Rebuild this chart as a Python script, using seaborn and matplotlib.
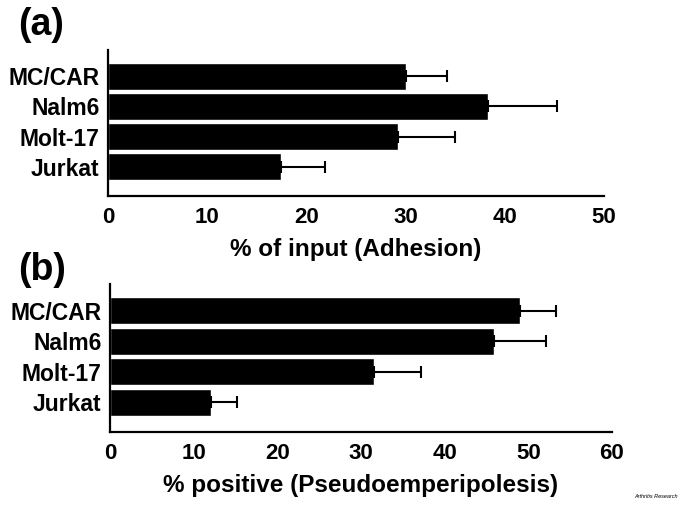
import numpy as np
import pandas as pd
import seaborn as sns
from matplotlib import pyplot as plt

sns.set_style("white")
plt.rcParams['font.family'] = ['Liberation Sans Narrow', 'Liberation Sans', 'DejaVu Sans']
plt.rcParams['font.weight'] = 'bold'
plt.rcParams['text.color'] = 'black'
plt.rcParams['axes.labelcolor'] = 'black'

cells = ['MC/CAR', 'Nalm6', 'Molt-17', 'Jurkat']
adhesion = [30.0, 38.3, 29.2, 17.4]
adhesion_err = [4.2, 7.0, 5.8, 4.5]
pseudo = [49.0, 45.9, 31.5, 12.1]
pseudo_err = [4.3, 6.2, 5.7, 3.1]

fig = plt.figure(figsize=(6.85, 5.05), dpi=100)
ax_a = fig.add_axes([108 / 685, 1 - 196 / 505, (604 - 108) / 685, 146 / 505])
ax_b = fig.add_axes([110 / 685, 1 - 432 / 505, (612 - 110) / 685, 148 / 505])


def panel(ax, vals, errs, xmax, xlabel):
    df = pd.DataFrame({'cell': cells, 'val': vals})
    sns.barplot(data=df, x='val', y='cell', orient='h', color='black',
                width=0.88, saturation=1, ax=ax)
    pos = np.arange(len(cells))
    ax.errorbar(vals, pos, xerr=[np.zeros(len(errs)), errs], fmt='none',
                ecolor='black', elinewidth=1.5, capsize=4, capthick=1.5)
    ax.set_xlim(0, xmax)
    ax.set_ylim(3.98, -0.88)
    ax.set_xticks(np.arange(0, xmax + 1, 10))
    ax.set_xlabel(xlabel, fontsize=17.5, fontweight='bold', labelpad=7, color='black')
    ax.set_ylabel('')
    sns.despine(ax=ax)
    for s in ['left', 'bottom']:
        ax.spines[s].set_linewidth(1.6)
        ax.spines[s].set_color('black')
    ax.tick_params(axis='x', direction='in', length=6, width=1.6,
                   labelsize=16, pad=8, colors='black')
    ax.tick_params(axis='y', length=0, labelsize=16.5, pad=6, colors='black')
    for t in ax.get_xticklabels() + ax.get_yticklabels():
        t.set_fontweight('bold')


panel(ax_a, adhesion, adhesion_err, 50, '% of input (Adhesion)')
panel(ax_b, pseudo, pseudo_err, 60, '% positive (Pseudoemperipolesis)')

fig.text(18 / 685, 1 - 25 / 505, '(a)', fontsize=27, fontweight='bold', va='center')
fig.text(18 / 685, 1 - 270 / 505, '(b)', fontsize=27, fontweight='bold', va='center')
fig.text(678 / 685, 1 - 497 / 505, 'Arthritis Research', fontsize=4, style='italic',
         fontweight='normal', ha='right', va='center')

fig.savefig('out.png', dpi=100)
